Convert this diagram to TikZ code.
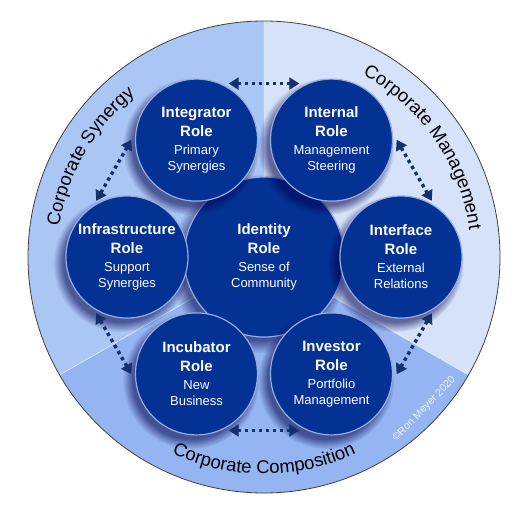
\documentclass[tikz,border=0pt]{standalone}
\usepackage{fontspec}
\setmainfont{Liberation Sans}
\usetikzlibrary{arrows.meta, shadows, fadings, decorations.text}
\definecolor{ringsyn}{RGB}{170,198,245}
\definecolor{ringman}{RGB}{213,226,250}
\definecolor{ringcom}{RGB}{148,181,242}
\definecolor{rolefill}{RGB}{4,50,148}
\definecolor{rolerim}{RGB}{150,172,222}
\definecolor{linkblue}{RGB}{20,48,110}
\newcommand\rolehd[1]{{\fontsize{15}{19}\selectfont\bfseries #1}}
\tikzset{
  role/.style={
    circle,
    minimum size=122pt,
    inner sep=0pt,
    align=center,
    text=white,
    fill=rolefill,
    draw=rolerim,
    line width=1.2pt,
    font=\fontsize{13}{16}\selectfont,
    circular drop shadow={shadow xshift=-5pt, shadow yshift=-6pt, opacity=0.55, shadow scale=1.12, fill=black!70!blue}
  },
  core/.style={role, minimum size=160pt},
  link/.style={
    linkblue,
    line width=3.4pt,
    dash pattern=on 3.4pt off 3.6pt,
    {Triangle[length=10pt,width=12pt]}-{Triangle[length=10pt,width=12pt]}
  },
  ringlabel/.style={
    decorate,
    decoration={text along path, text align=center,
      text={|\fontsize{18.5}{18}\selectfont|#1}}
  },
  copyr/.style={text=white, opacity=0.85, font=\fontsize{10.5}{12}\selectfont}
}
\begin{document}
\begin{tikzpicture}[x=1pt, y=1pt]
  \useasboundingbox (-264,-252) rectangle (264,257);
  % outer ring
  \fill[ringsyn] (0,0) -- (90:236) arc[start angle=90, end angle=210, radius=236] -- cycle;
  \fill[ringman] (0,0) -- (-30:236) arc[start angle=-30, end angle=90, radius=236] -- cycle;
  \fill[ringcom] (0,0) -- (210:236) arc[start angle=210, end angle=330, radius=236] -- cycle;
  \draw[white, opacity=0.7, line width=0.6pt] (210:236) -- (0,0) -- (330:236);
  \draw[black!75, line width=0.8pt] (0,0) circle[radius=236];
  \path[ringlabel={Corporate Synergy}] (190:207) arc[start angle=190, end angle=110, radius=207];
  \path[ringlabel={Corporate Management}] (74.5:207) arc[start angle=74.5, end angle=-5.5, radius=207];
  \path[ringlabel={Corporate Composition}] (230:217) arc[start angle=230, end angle=310, radius=217];
  % roles
  \node[core] (ident) at (0,0) {\rolehd{Identity}\\[3pt]\rolehd{Role}\\[2pt]Sense of\\Community};
  \node[role] (intern) at (60:135) {\rolehd{Internal}\\[3pt]\rolehd{Role}\\[2pt]Management\\Steering};
  \node[role] (integ) at (120:135) {\rolehd{Integrator}\\[3pt]\rolehd{Role}\\[2pt]Primary\\Synergies};
  \node[role] (infra) at (180:137) {\rolehd{Infrastructure}\\[3pt]\rolehd{Role}\\[2pt]Support\\Synergies};
  \node[role] (incub) at (240:135) {\rolehd{Incubator}\\[3pt]\rolehd{Role}\\[2pt]New\\Business};
  \node[role] (invest) at (300:135) {\rolehd{Investor}\\[3pt]\rolehd{Role}\\[2pt]Portfolio\\Management};
  \node[role] (iface) at (0:137) {\rolehd{Interface}\\[3pt]\rolehd{Role}\\[2pt]External\\Relations};
  % links
  \foreach \a in {30,90,...,330} {
    \coordinate (l\a) at (\a+11.5:177);
    \coordinate (r\a) at (\a-11.5:177);
    \draw[link] (l\a) -- (r\a);
  }
  \node[copyr, rotate=46] (copy) at (-43.5:221) {©Ron Meyer 2020};
\end{tikzpicture}
\end{document}
